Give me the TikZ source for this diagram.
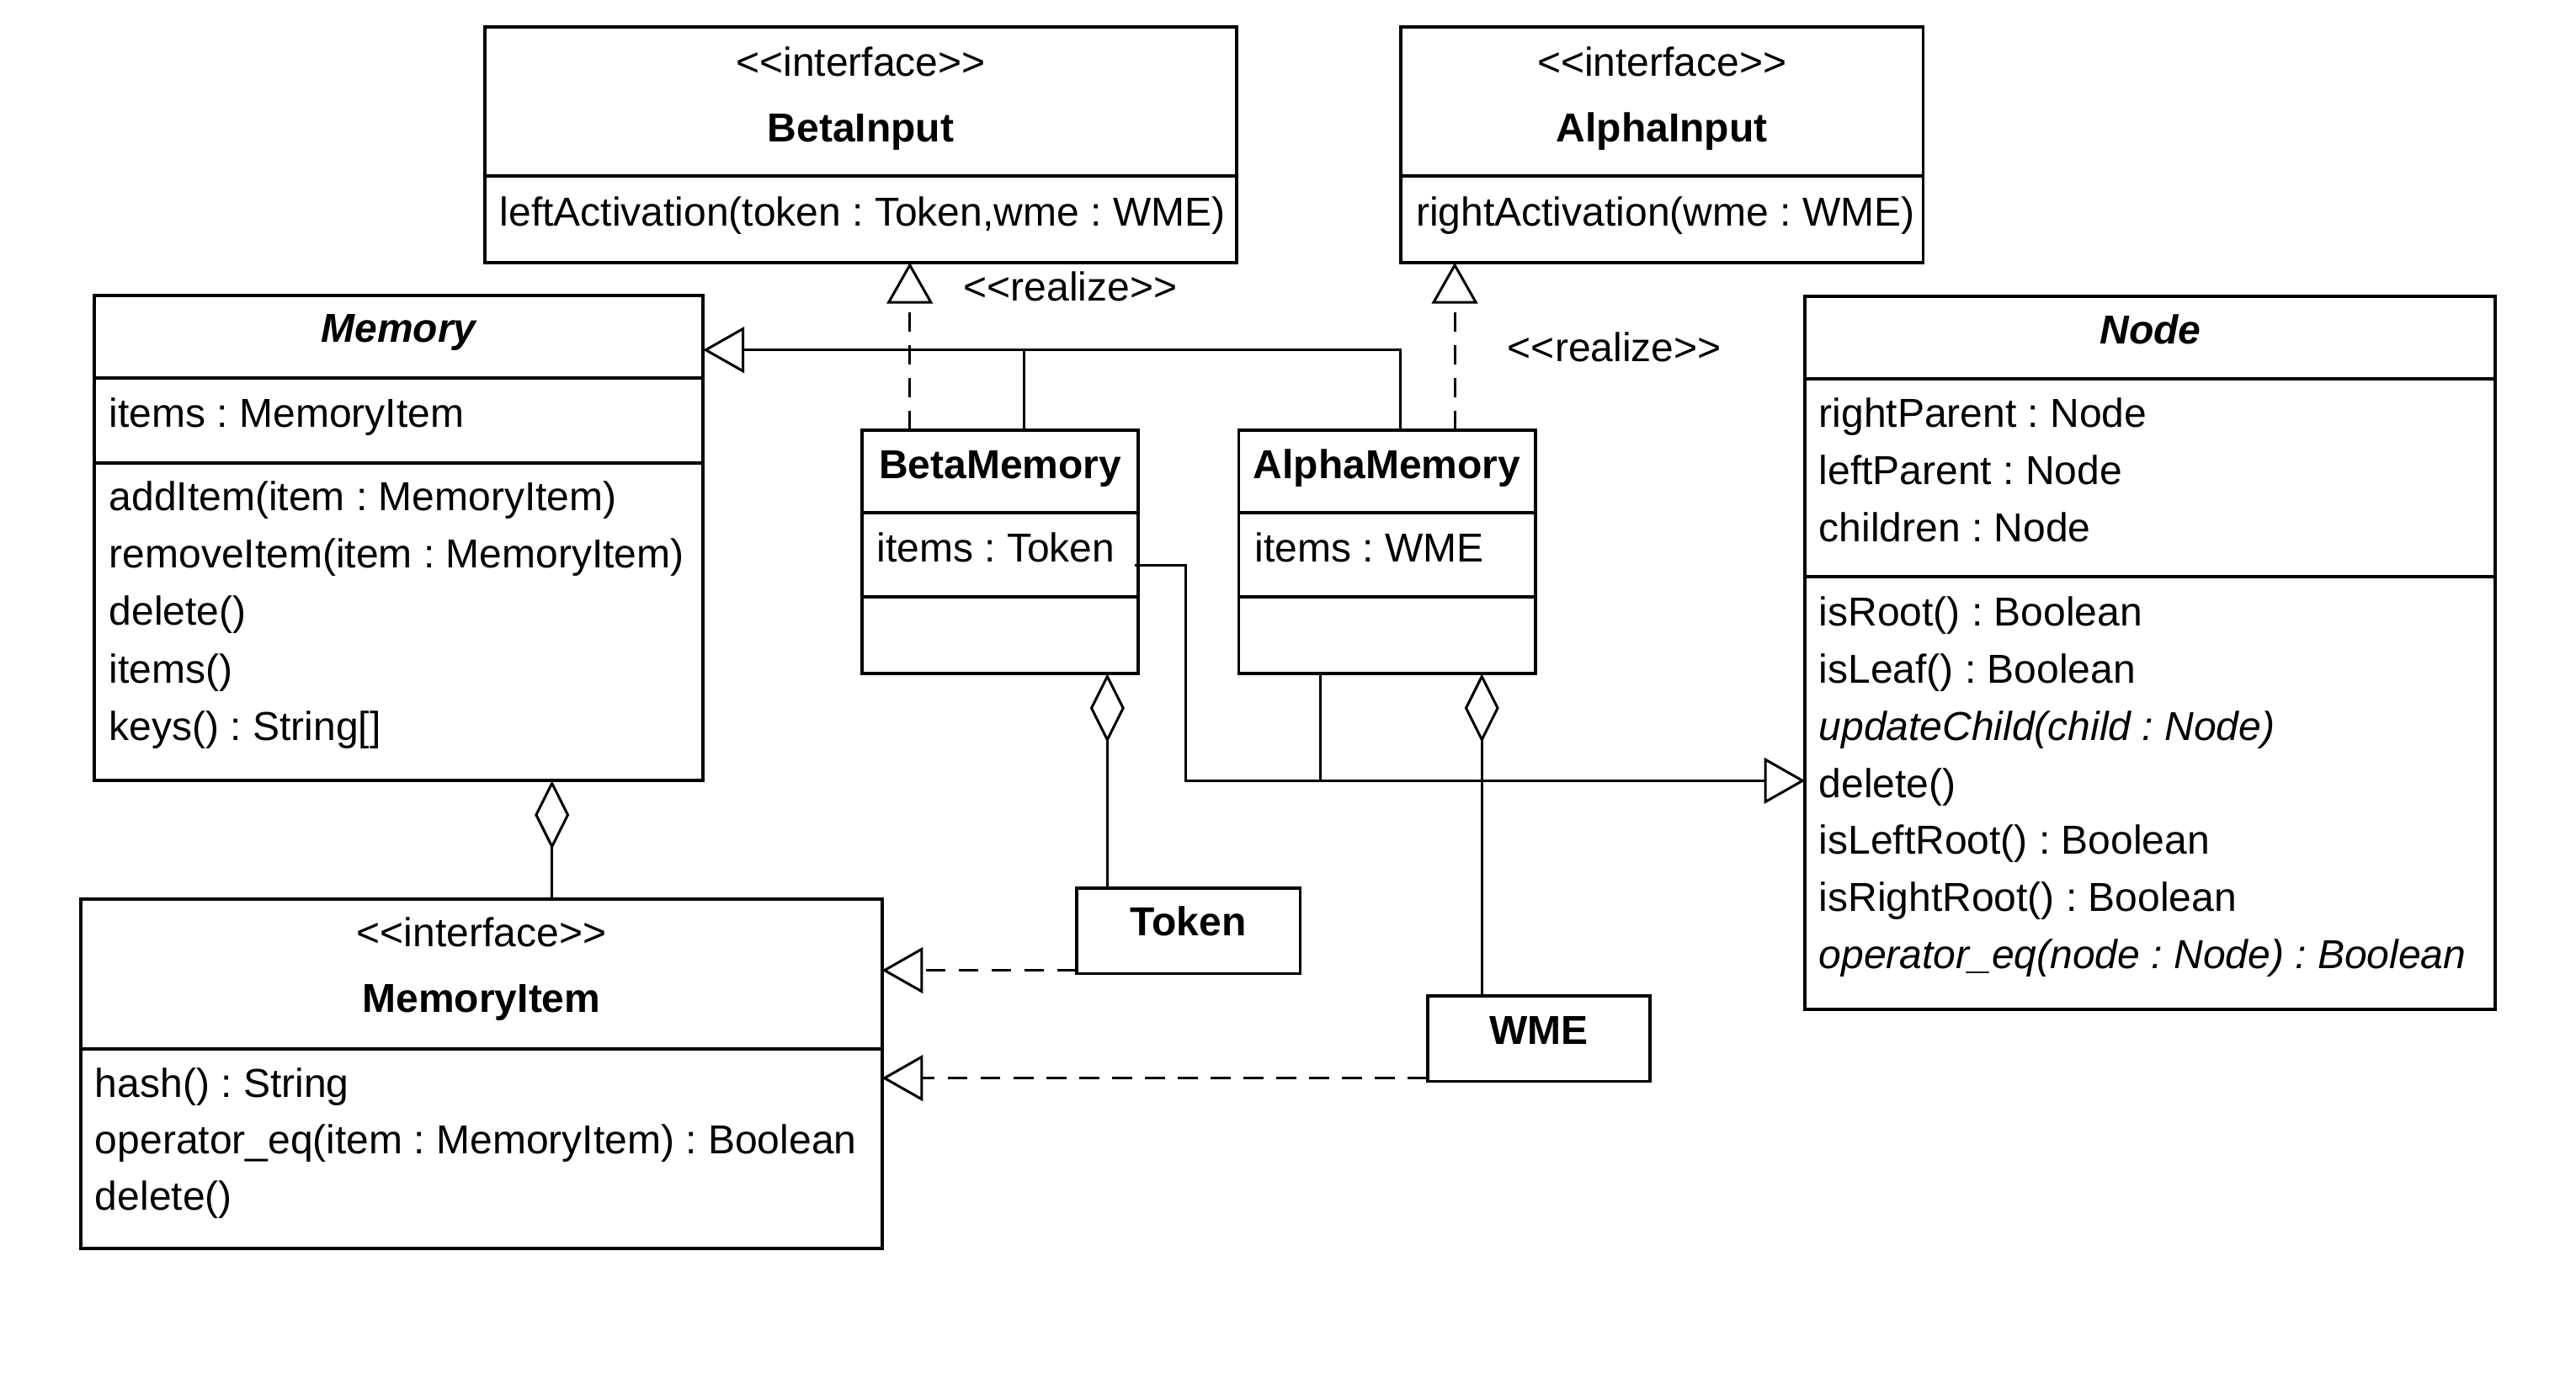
\documentclass[tikz,border=0pt]{standalone}
\usepackage{fontspec}
\setmainfont{Liberation Sans}
\usetikzlibrary{arrows.meta,calc}
\newcommand{\umlfont}{\fontsize{24.6}{29}\selectfont\frenchspacing}
\frenchspacing
\begin{document}
\begin{tikzpicture}[x=1pt,y=-1pt,
  umlbox/.style={draw, line width=2pt, rectangle, anchor=north west, inner sep=0pt, outer sep=0pt},
  divline/.style={line width=2pt},
  lbl/.style={anchor=base west, inner sep=0pt, font=\umlfont},
  ctr/.style={anchor=base, inner sep=0pt, font=\umlfont},
  conn/.style={line width=1.55pt},
  gen/.style={conn, -{Triangle[open, length=25pt, width=28pt]}},
  real/.style={conn, dash pattern=on 12pt off 8pt, -{Triangle[open, length=25pt, width=28pt]}},
  agg/.style={conn, {Diamond[open, length=42pt, width=21pt]}-},
]
\useasboundingbox (0,0) rectangle (1568,842.4);

% ---------- boxes ----------
\node[umlbox, minimum width=457.4pt, minimum height=143.6pt] (betainput) at (295.2,16.2) {};
\node[umlbox, minimum width=318pt, minimum height=143.6pt] (alphainput) at (852.6,16.2) {};
\node[umlbox, minimum width=370.6pt, minimum height=295pt] (memory) at (57.4,180) {};
\node[umlbox, minimum width=168pt, minimum height=148pt] (betamem) at (524.8,262) {};
\node[umlbox, minimum width=180.5pt, minimum height=148pt] (alphamem) at (754,262) {};
\node[umlbox, minimum width=420.2pt, minimum height=434.3pt] (node) at (1098.8,180.2) {};
\node[umlbox, minimum width=487.4pt, minimum height=212.7pt] (memitem) at (49.4,547.3) {};
\node[umlbox, minimum width=136pt, minimum height=51.8pt] (token) at (655.4,540.8) {};
\node[umlbox, minimum width=135.4pt, minimum height=51.8pt] (wme) at (869,606.4) {};

% ---------- compartment dividers ----------
\draw[divline] ($(betainput.north west)+(0,91.1)$) -- ($(betainput.north east)+(0,91.1)$);
\draw[divline] ($(alphainput.north west)+(0,91.1)$) -- ($(alphainput.north east)+(0,91.1)$);
\draw[divline] ($(memory.north west)+(0,50.3)$) -- ($(memory.north east)+(0,50.3)$);
\draw[divline] ($(memory.north west)+(0,101.7)$) -- ($(memory.north east)+(0,101.7)$);
\draw[divline] ($(betamem.north west)+(0,50.2)$) -- ($(betamem.north east)+(0,50.2)$);
\draw[divline] ($(betamem.north west)+(0,101.4)$) -- ($(betamem.north east)+(0,101.4)$);
\draw[divline] ($(alphamem.north west)+(0,50.2)$) -- ($(alphamem.north east)+(0,50.2)$);
\draw[divline] ($(alphamem.north west)+(0,101.4)$) -- ($(alphamem.north east)+(0,101.4)$);
\draw[divline] ($(node.north west)+(0,50.2)$) -- ($(node.north east)+(0,50.2)$);
\draw[divline] ($(node.north west)+(0,170.8)$) -- ($(node.north east)+(0,170.8)$);
\draw[divline] ($(memitem.north west)+(0,91.3)$) -- ($(memitem.north east)+(0,91.3)$);

% ---------- texts ----------
\node[ctr] (bi1) at ($(betainput.north)+(0,30.3)$) {<\kern0pt<interface>\kern0pt>};
\node[ctr, font=\umlfont\bfseries] (bi2) at ($(betainput.north)+(0,70.3)$) {BetaInput};
\node[lbl] (bi3) at ($(betainput.north west)+(8.8,121.3)$) {leftActivation(token : Token,wme : WME)};

\node[ctr] (ai1) at ($(alphainput.north)+(0,30.3)$) {<\kern0pt<interface>\kern0pt>};
\node[ctr, font=\umlfont\bfseries] (ai2) at ($(alphainput.north)+(0,70.3)$) {AlphaInput};
\node[lbl] (ai3) at ($(alphainput.north west)+(9.2,121.3)$) {rightActivation(wme : WME)};

\node[ctr, font=\umlfont\bfseries\itshape] (m0) at ($(memory.north)+(0,28.5)$) {Memory};
\node[lbl] (m1) at ($(memory.north west)+(8.9,80)$) {items : MemoryItem};
\node[lbl] (m2) at ($(memory.north west)+(8.9,130.6)$) {addItem(item : MemoryItem)};
\node[lbl] (m3) at ($(memory.north west)+(8.9,165.6)$) {removeItem(item : MemoryItem)};
\node[lbl] (m4) at ($(memory.north west)+(8.9,200.6)$) {delete()};
\node[lbl] (m5) at ($(memory.north west)+(8.9,235.6)$) {items()};
\node[lbl] (m6) at ($(memory.north west)+(8.9,270.6)$) {keys() : String[]};

\node[ctr, font=\umlfont\bfseries] (bm0) at ($(betamem.north)+(0,29.1)$) {BetaMemory};
\node[lbl] (bm1) at ($(betamem.north west)+(8.7,79.9)$) {items : Token};

\node[ctr, font=\umlfont\bfseries] (am0) at ($(alphamem.north)+(0,29.1)$) {AlphaMemory};
\node[lbl] (am1) at ($(alphamem.north west)+(9.5,79.9)$) {items : WME};

\node[ctr, font=\umlfont\bfseries\itshape] (n0) at ($(node.north)+(0,29)$) {Node};
\node[lbl] (n1) at ($(node.north west)+(8.2,80.1)$) {rightParent : Node};
\node[lbl] (n2) at ($(node.north west)+(8.2,114.8)$) {leftParent : Node};
\node[lbl] (n3) at ($(node.north west)+(8.2,149.5)$) {children : Node};
\node[lbl] (n4) at ($(node.north west)+(8.2,201)$) {isRoot() : Boolean};
\node[lbl] (n5) at ($(node.north west)+(8.2,235.7)$) {isLeaf() : Boolean};
\node[lbl, font=\umlfont\itshape] (n6) at ($(node.north west)+(8.2,270.4)$) {updateChild(child : Node)};
\node[lbl] (n7) at ($(node.north west)+(8.2,305.1)$) {delete()};
\node[lbl] (n8) at ($(node.north west)+(8.2,339.8)$) {isLeftRoot() : Boolean};
\node[lbl] (n9) at ($(node.north west)+(8.2,374.5)$) {isRightRoot() : Boolean};
\node[lbl, font=\umlfont\itshape] (n10) at ($(node.north west)+(8.2,409.2)$) {operator\_eq(node : Node) : Boolean};

\node[ctr] (mi1) at ($(memitem.north)+(0,29.1)$) {<\kern0pt<interface>\kern0pt>};
\node[ctr, font=\umlfont\bfseries] (mi2) at ($(memitem.north)+(0,69.1)$) {MemoryItem};
\node[lbl] (mi3) at ($(memitem.north west)+(8.3,120.6)$) {hash() : String};
\node[lbl] (mi4) at ($(memitem.north west)+(8.3,155)$) {operator\_eq(item : MemoryItem) : Boolean};
\node[lbl] (mi5) at ($(memitem.north west)+(8.3,189.4)$) {delete()};

\node[ctr, font=\umlfont\bfseries] (tk0) at ($(token.north)+(0,28.7)$) {Token};
\node[ctr, font=\umlfont\bfseries] (wm0) at ($(wme.north)+(0,29)$) {WME};

\node[lbl] (rl1) at (586.3,183) {<\kern0pt<realize>\kern0pt>};
\node[lbl] (rl2) at (917.5,220.1) {<\kern0pt<realize>\kern0pt>};

% ---------- connectors ----------
% generalization to Memory
\coordinate (genY) at ($(memory.north east)+(0,33)$);
\coordinate (bmTop) at ($(betamem.north west)+(98.7,0)$);
\coordinate (amTop) at ($(alphamem.north west)+(98.5,0)$);
\draw[gen] (amTop) |- (genY);
\draw[conn] (bmTop) -- (bmTop |- genY);

% realizations of the input interfaces
\coordinate (bmReal) at ($(betamem.north west)+(29,0)$);
\draw[real] (bmReal) -- (bmReal |- betainput.south);
\coordinate (amReal) at ($(alphamem.north west)+(131.5,0)$);
\draw[real] (amReal) -- (amReal |- alphainput.south);

% generalization to Node
\coordinate (nodeIn) at ($(node.north west)+(0,295)$);
\coordinate (bmOut) at ($(betamem.north east)+(-2,82)$);
\draw[gen] (bmOut) -- ++(31,0) |- (nodeIn);
\coordinate (amBot) at ($(alphamem.south west)+(49.5,0)$);
\draw[conn] (amBot) -- (amBot |- nodeIn);

% aggregations
\coordinate (bmAgg) at ($(betamem.south west)+(149.2,0)$);
\draw[agg] (bmAgg) -- (bmAgg |- token.north);
\coordinate (amAgg) at ($(alphamem.south west)+(148,0)$);
\draw[agg] (amAgg) -- (amAgg |- wme.north);
\coordinate (memAgg) at ($(memory.south west)+(278.6,0)$);
\draw[agg] (memAgg) -- (memAgg |- memitem.north);

% realizations of MemoryItem
\coordinate (tkOut) at ($(token.south west)+(0,-2)$);
\draw[real] (tkOut) -- (tkOut -| memitem.east);
\coordinate (wmOut) at ($(wme.south west)+(0,-2)$);
\draw[real] (wmOut) -- (wmOut -| memitem.east);
\end{tikzpicture}
\end{document}
